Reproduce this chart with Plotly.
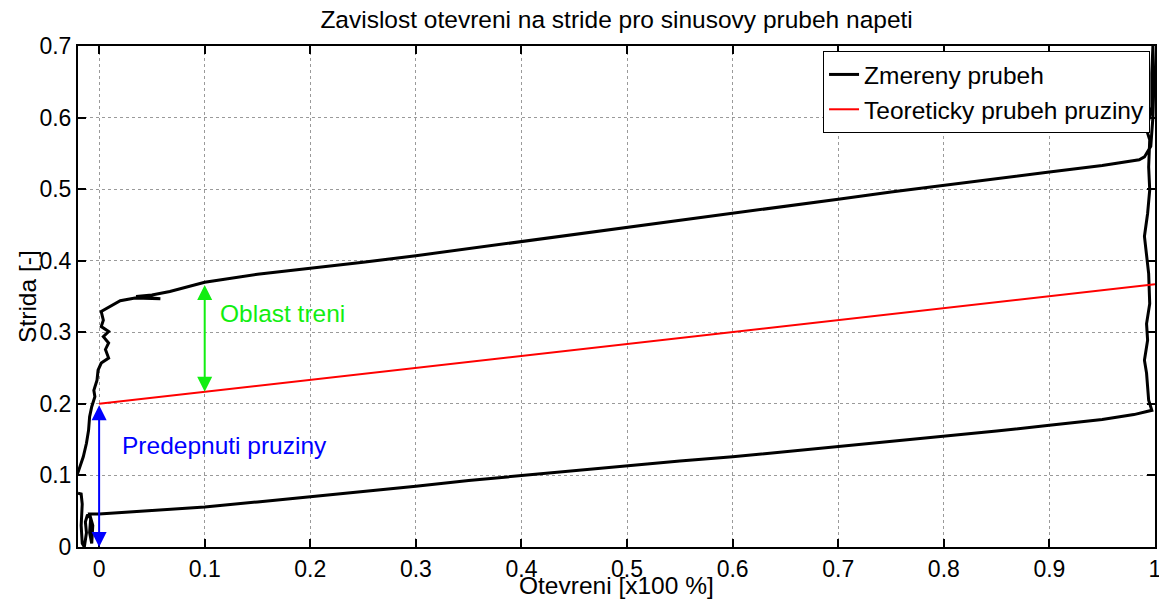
import plotly.graph_objects as go

# Measured loop (Zmereny prubeh): x = otevreni, y = strida
meas_x = [-0.020, -0.017, -0.016, -0.017, -0.016, -0.014, -0.012, -0.013, -0.011, -0.008,
          -0.009, -0.007, -0.006, -0.009, 0.000,
          0.020, 0.050, 0.100, 0.150, 0.200, 0.250, 0.300, 0.350, 0.400, 0.450,
          0.500, 0.550, 0.600, 0.650, 0.700, 0.750, 0.800, 0.850, 0.900, 0.950,
          0.980, 0.997,
          0.994, 0.992, 0.990, 0.993, 0.992, 0.995, 0.994, 0.992, 0.990, 0.993,
          0.995, 0.994, 0.995, 0.992, 0.997, 0.997, 0.998,
          0.999, 0.998, 0.996, 0.990,
          0.985, 0.950, 0.900, 0.850, 0.800, 0.750, 0.700, 0.650, 0.600, 0.550,
          0.500, 0.450, 0.400, 0.350, 0.300, 0.250, 0.200, 0.150, 0.100, 0.083,
          0.067, 0.050, 0.035, 0.058, 0.034, 0.020, 0.010, 0.002,
          0.004, 0.002, 0.009, 0.004, 0.009, 0.006, 0.009, 0.002, -0.001, -0.002,
          -0.005, -0.004, -0.007, -0.009, -0.010, -0.012, -0.015, -0.018, -0.021]
meas_y = [0.075, 0.074, 0.060, 0.030, 0.005, 0.000, 0.020, 0.035, 0.045, 0.040,
          0.020, 0.005, 0.030, 0.046, 0.046,
          0.048, 0.051, 0.056, 0.063, 0.070, 0.077, 0.085, 0.093, 0.100, 0.107,
          0.114, 0.120, 0.126, 0.133, 0.140, 0.147, 0.154, 0.162, 0.170, 0.178,
          0.185, 0.191,
          0.205, 0.243, 0.261, 0.289, 0.312, 0.340, 0.382, 0.410, 0.434, 0.466,
          0.499, 0.531, 0.569, 0.583, 0.615, 0.662, 0.700,
          0.650, 0.600, 0.560, 0.545,
          0.541, 0.533, 0.524, 0.515, 0.506, 0.496, 0.486, 0.476, 0.466, 0.456,
          0.447, 0.437, 0.427, 0.417, 0.407, 0.398, 0.390, 0.381, 0.370, 0.363,
          0.357, 0.352, 0.350, 0.347, 0.348, 0.344, 0.336, 0.329,
          0.317, 0.308, 0.301, 0.294, 0.285, 0.276, 0.264, 0.257, 0.247, 0.233,
          0.219, 0.210, 0.196, 0.182, 0.163, 0.145, 0.126, 0.112, 0.100]

# Theoretical spring line (Teoreticky prubeh pruziny)
theo_x = [0.0, 1.0]
theo_y = [0.200, 0.367]

# Annotation arrows
friction_x = 0.1
friction_y = [0.217, 0.368]
preload_x = 0.0
preload_y = [0.0, 0.200]

x_ticks = [0, 0.1, 0.2, 0.3, 0.4, 0.5, 0.6, 0.7, 0.8, 0.9, 1]
x_tick_text = ["0", "0.1", "0.2", "0.3", "0.4", "0.5", "0.6", "0.7", "0.8", "0.9", "1"]
y_ticks = [0, 0.1, 0.2, 0.3, 0.4, 0.5, 0.6, 0.7]
y_tick_text = ["0", "0.1", "0.2", "0.3", "0.4", "0.5", "0.6", "0.7"]

FONT = "Liberation Sans, Arial, sans-serif"

fig = go.Figure()
fig.add_trace(go.Scatter(x=meas_x, y=meas_y, mode="lines", name="Zmereny prubeh",
                         line=dict(color="black", width=3)))
fig.add_trace(go.Scatter(x=theo_x, y=theo_y, mode="lines", name="Teoreticky prubeh pruziny",
                         line=dict(color="#ff0000", width=2)))

axis_common = dict(showline=True, linecolor="black", linewidth=2, mirror="allticks",
                   ticks="inside", ticklen=8, tickwidth=1.5, tickcolor="black",
                   showgrid=True, gridcolor="#9a9a9a", griddash="dot", gridwidth=1,
                   zeroline=False, automargin=False, ticklabeloverflow="allow",
                   tickfont=dict(family=FONT, size=23, color="black"))

fig.update_xaxes(range=[-0.02, 1.0], tickvals=x_ticks, ticktext=x_tick_text, **axis_common)
fig.update_yaxes(range=[0, 0.7], tickvals=y_ticks, ticktext=y_tick_text, **axis_common)

fig.add_annotation(x=friction_x, y=friction_y[0], ax=friction_x, ay=friction_y[1],
                   xref="x", yref="y", axref="x", ayref="y", text="",
                   showarrow=True, arrowhead=2, arrowside="end+start", arrowsize=1.5,
                   arrowwidth=2, arrowcolor="#11ee11")
fig.add_annotation(x=preload_x, y=preload_y[0], ax=preload_x, ay=preload_y[1],
                   xref="x", yref="y", axref="x", ayref="y", text="",
                   showarrow=True, arrowhead=2, arrowside="end+start", arrowsize=1.5,
                   arrowwidth=2, arrowcolor="#0000ff")
fig.add_annotation(x=0.113, y=0.326, xref="x", yref="y", text="Oblast treni",
                   showarrow=False, xanchor="left", yanchor="middle",
                   font=dict(family=FONT, size=24.5, color="#11ee11"))
fig.add_annotation(x=0.020, y=0.142, xref="x", yref="y", text="Predepnuti pruziny",
                   showarrow=False, xanchor="left", yanchor="middle",
                   font=dict(family=FONT, size=24.5, color="#0000ff"))

fig.add_annotation(x=0.5, y=-0.077, xref="paper", yref="paper", text="Otevreni [x100 %]",
                   showarrow=False, xanchor="center", yanchor="middle",
                   font=dict(family=FONT, size=24.5, color="black"))
fig.add_annotation(x=-0.047, y=0.5, xref="paper", yref="paper", text="Strida [-]",
                   showarrow=False, xanchor="center", yanchor="middle", textangle=-90,
                   font=dict(family=FONT, size=24.5, color="black"))

fig.update_layout(
    width=1159, height=600,
    margin=dict(l=78, r=4, t=46, b=53),
    paper_bgcolor="white", plot_bgcolor="white",
    title=dict(text="Zavislost otevreni na stride pro sinusovy prubeh napeti",
               x=0.532, xanchor="center", y=0.967, yanchor="middle",
               font=dict(family=FONT, size=24.5, color="black")),
    legend=dict(x=0.9954, xanchor="right", y=0.99, yanchor="top",
                bgcolor="white", bordercolor="black", borderwidth=1,
                font=dict(family=FONT, size=24.5, color="black"),
                tracegroupgap=0, itemwidth=30),
    showlegend=True,
)

# remove the default page margin so the 1159x600 figure fills the window exactly
fig.write_html("out.html", config={"displayModeBar": False},
               post_script="document.body.style.margin='0';document.body.style.overflow='hidden';")
